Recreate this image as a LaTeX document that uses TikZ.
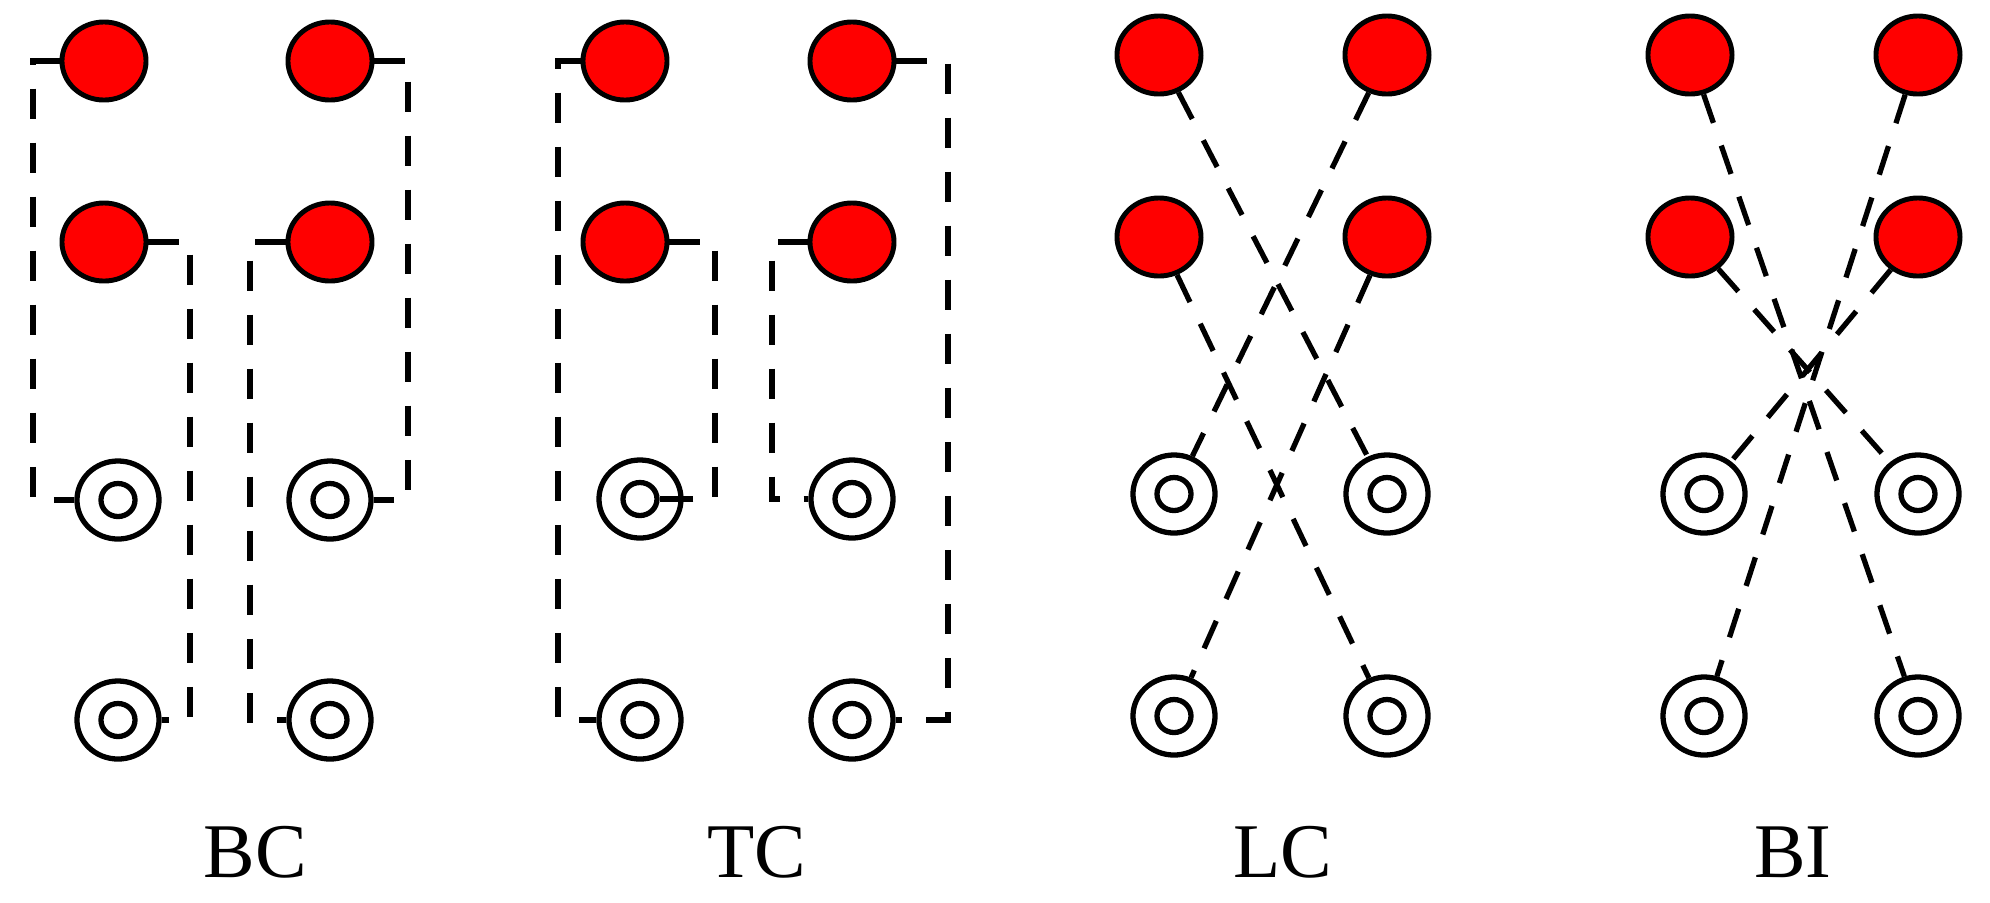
\documentclass[tikz,border=0pt]{standalone}
\usepackage{fontspec}
\setmainfont{Liberation Serif}
\usetikzlibrary{shapes.geometric}
\begin{document}
\begin{tikzpicture}[x=0.01cm,y=-0.01cm,
  red/.style={ellipse,draw=black,fill=red,line width=1.4pt,minimum width=0.84cm,minimum height=0.78cm,inner sep=0pt},
  outer/.style={ellipse,draw=black,line width=1.5pt,minimum width=0.82cm,minimum height=0.78cm,inner sep=0pt},
  inner/.style={ellipse,draw=black,line width=1.5pt,minimum width=0.34cm,minimum height=0.33cm,inner sep=0pt},
  link/.style={line width=1.5pt,dash pattern=on 0.3cm off 0.24cm},
  solidlink/.style={line width=1.5pt},
  lab/.style={font=\fontsize{22}{26}\selectfont,inner sep=0pt}]
\useasboundingbox (0,0) rectangle (1990,902);
\newcommand{\coax}[2]{\node[outer] (#1) at (#2) {}; \node[inner] (#1i) at (#2) {};}
% ---------- BC ----------
\node[red] (a1) at (104,61) {}; \node[red] (a2) at (330,61) {};
\node[red] (a3) at (104,242) {}; \node[red] (a4) at (330,242) {};
\coax{ac1}{118,500} \coax{ac2}{330,500} \coax{ac3}{118,720} \coax{ac4}{330,720}
\draw[link] (a1.west) -- (33,61) -- (33,500) -- (ac1.west);
\draw[link] (a2.east) -- (408,61) -- (408,500) -- (ac2.east);
\draw[link] (a3.east) -- (190,242) -- (190,720) -- (ac3.east);
\draw[link] (a4.west) -- (250,242) -- (250,720) -- (ac4.west);
\node[lab] (l1) at (255,852) {BC};
% ---------- TC ----------
\node[red] (b1) at (625,61) {}; \node[red] (b2) at (852,61) {};
\node[red] (b3) at (625,242) {}; \node[red] (b4) at (852,242) {};
\coax{bc1}{640,499} \coax{bc2}{852,499} \coax{bc3}{640,720} \coax{bc4}{852,720}
\draw[link] (b1.west) -- (558,61) -- (558,720) -- (bc3.west);
\draw[link] (b2.east) -- (948,61) -- (948,720) -- (bc4.east);
\draw[link] (b3.east) -- (715,242) -- (715,499) -- (bc1.east);
\draw[solidlink] (bc1.east) -- (bc1i.east);
\draw[link] (b4.west) -- (772,242) -- (772,499) -- (bc2.west);
\node[lab] (l2) at (757,852) {TC};
% ---------- LC ----------
\node[red] (c1) at (1159,55) {}; \node[red] (c2) at (1387,55) {};
\node[red] (c3) at (1159,237) {}; \node[red] (c4) at (1387,237) {};
\coax{cc1}{1174,494} \coax{cc2}{1387,494} \coax{cc3}{1174,716} \coax{cc4}{1387,716}
\draw[link] (c1) -- (cc2);
\draw[link] (c2) -- (cc1);
\draw[link] (c3) -- (cc4);
\draw[link] (c4) -- (cc3);
\node[lab] (l3) at (1283,852) {LC};
% ---------- BI ----------
\node[red] (d1) at (1690,55) {}; \node[red] (d2) at (1918,55) {};
\node[red] (d3) at (1690,237) {}; \node[red] (d4) at (1918,237) {};
\coax{dc1}{1704,494} \coax{dc2}{1918,494} \coax{dc3}{1704,716} \coax{dc4}{1918,716}
\draw[link] (d1) -- (dc4);
\draw[link] (d2) -- (dc3);
\draw[link] (d3) -- (dc2);
\draw[link] (d4) -- (dc1);
\node[lab] (l4) at (1793,852) {BI};
\end{tikzpicture}
\end{document}
